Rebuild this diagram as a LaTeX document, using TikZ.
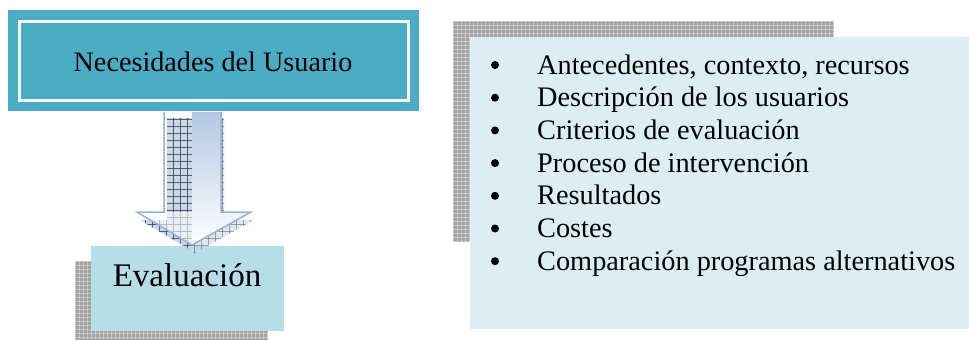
\documentclass[tikz,border=0pt]{standalone}
\usepackage{fontspec}
\setmainfont{Liberation Serif}
\definecolor{darkbox}{HTML}{4BACC6}
\definecolor{evalbox}{HTML}{B6DDE8}
\definecolor{listbox}{HTML}{DBEEF3}
\definecolor{arrowline}{HTML}{95B3D7}
\definecolor{arrowtop}{HTML}{B3C8E3}
\definecolor{shadowbase}{HTML}{A4A4A4}
\definecolor{gridline}{HTML}{34486A}
\definecolor{gridbg}{HTML}{CDD5DF}
\tikzset{
  itemtext/.style={anchor=base west, inner sep=0pt, font=\fontsize{28.3}{34}\selectfont},
  bulletdot/.style={circle, fill=black, inner sep=0pt, minimum size=8pt},
  texture/.style={white,opacity=0.35,line width=0.9pt},
}
\begin{document}
\begin{tikzpicture}[x=1pt,y=-1pt]
\useasboundingbox (0,0) rectangle (969,340);
% ---------- list box shadow and box
\fill[shadowbase] (453,21) rectangle (834,242);
\begin{scope}
\clip (453,21) rectangle (834,242);
\foreach \i in {0,4,...,384} {\draw[texture] (453+\i,21) -- (453+\i,242);}
\foreach \j in {0,4,...,224} {\draw[texture] (453,21+\j) -- (834,21+\j);}
\end{scope}
\node[fill=listbox, inner sep=0pt, minimum width=499pt, minimum height=292pt, anchor=north west] (list) at (470,37) {};
% ---------- evaluation shadow and box
\fill[shadowbase] (75,261) rectangle (268,340);
\begin{scope}
\clip (75,261) rectangle (268,340);
\foreach \i in {0,4,...,196} {\draw[texture] (75+\i,261) -- (75+\i,340);}
\foreach \j in {0,4,...,80} {\draw[texture] (75,261+\j) -- (268,261+\j);}
\end{scope}
\node[fill=evalbox, inner sep=0pt, minimum width=193pt, minimum height=85pt, anchor=north west] (eval) at (91,246) {};
\node[inner sep=0pt, anchor=base, font=\fontsize{33}{38}\selectfont] (evaltext) at (187,286) {Evaluación};
% ---------- arrow shadow
\begin{scope}
\clip (167,118) -- (224,118) -- (224,220) -- (254,220) -- (195,253) -- (140,220) -- (167,220) -- cycle;
\fill[gridbg,opacity=0.6] (130,110) rectangle (260,260);
\foreach \i in {0,7,...,126} {\draw[gridline,line width=0.9pt,opacity=0.45] (131+\i,110) -- (131+\i,260);}
\foreach \j in {0,7,...,150} {\draw[gridline,line width=0.9pt,opacity=0.45] (130,112+\j) -- (260,112+\j);}
\end{scope}
\begin{scope}
\clip (167,118) -- (192,118) -- (192,250) -- (140,220) -- (167,220) -- cycle;
\fill[gridbg] (130,110) rectangle (260,260);
\foreach \i in {0,7,...,126} {\draw[gridline,line width=1pt,opacity=0.85] (131+\i,110) -- (131+\i,260);}
\foreach \j in {0,7,...,150} {\draw[gridline,line width=1pt,opacity=0.85] (130,112+\j) -- (260,112+\j);}
\end{scope}
% ---------- arrow body (right half gradient)
\begin{scope}
\clip (192,100) rectangle (260,260);
\shade[top color=arrowtop, bottom color=white] (164,112) -- (221,112) -- (221,212) -- (251,212) -- (192,245) -- (137,212) -- (164,212) -- cycle;
\end{scope}
\begin{scope}
\clip (130,200) rectangle (192,260);
\fill[white,opacity=0.6] (164,212) -- (192,212) -- (192,245) -- (137,212) -- cycle;
\end{scope}
\draw[arrowline, line width=1.5pt, line join=miter] (164,112) -- (164,212) -- (137,212) -- (192,245) -- (251,212) -- (221,212) -- (221,112);
% ---------- top box
\node[fill=darkbox, inner sep=0pt, minimum width=411pt, minimum height=101pt, anchor=north west] (need) at (8,10) {};
\draw[white, line width=3pt] (19.5,21.5) rectangle (408.5,100);
\node[inner sep=0pt, anchor=base, font=\fontsize{28.2}{34}\selectfont] (needtext) at (213,71) {Necesidades del Usuario};
% ---------- list
\foreach \t [count=\k from 0] in {{Antecedentes, contexto, recursos}, {Descripción de los usuarios}, {Criterios de evaluación}, {Proceso de intervención}, {Resultados}, {Costes}, {Comparación programas alternativos}} {
  \node[itemtext] (item\k) at (537,74+32.7*\k) {\t};
  \node[bulletdot] (dot\k) at (495,65+32.7*\k) {};
}
\end{tikzpicture}
\end{document}
